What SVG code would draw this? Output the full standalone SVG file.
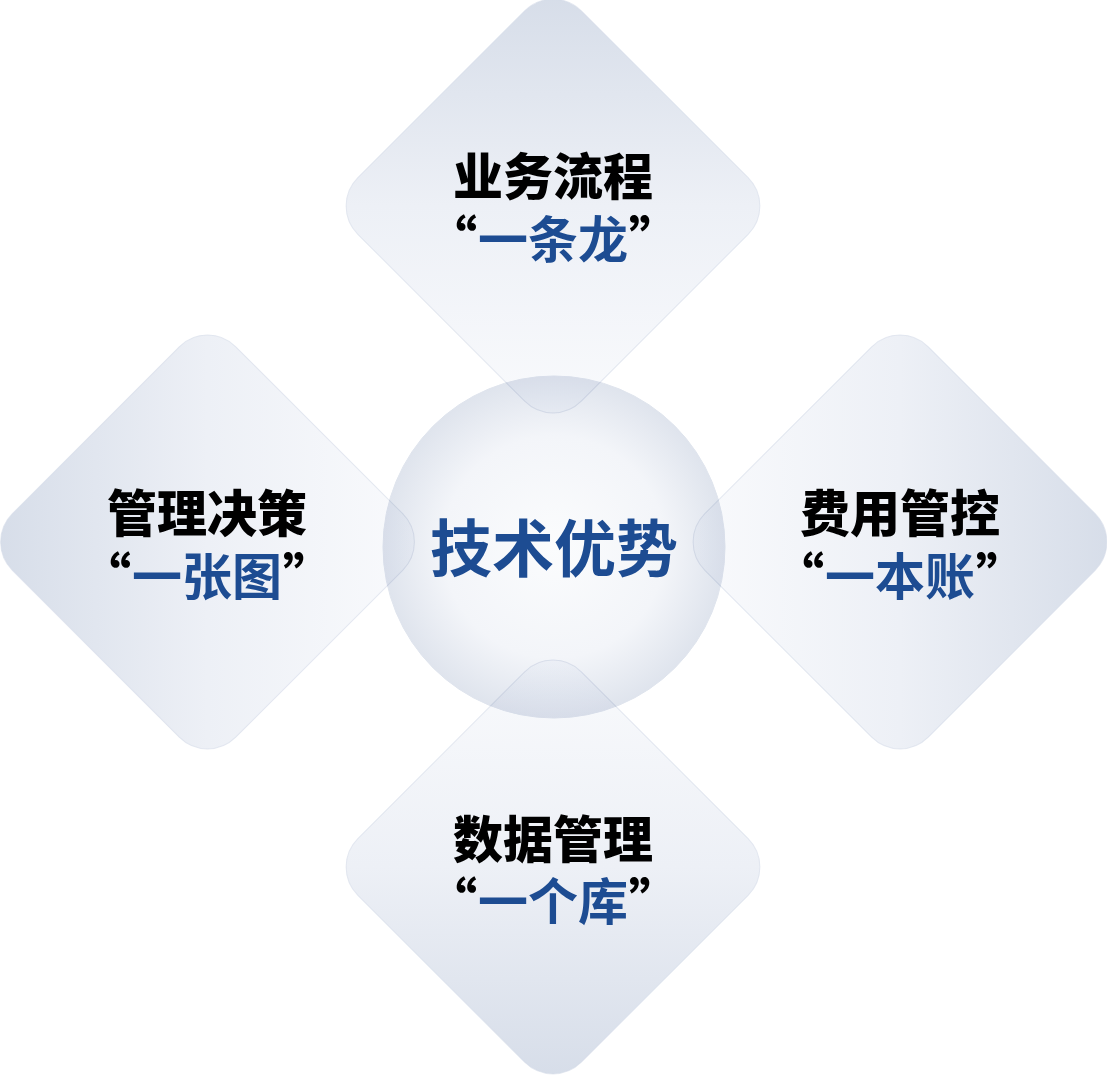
<svg xmlns="http://www.w3.org/2000/svg" width="1107" height="1075" viewBox="0 0 1107 1075">
<style>
.dia{stroke:#d3dbe8;stroke-opacity:0.6;stroke-width:1}
.t1{font-family:"Noto Sans CJK SC","Noto Sans",sans-serif;font-weight:900;font-size:50px;fill:#000000}
.t2{font-family:"Noto Sans CJK SC","Noto Sans",sans-serif;font-weight:700;font-size:50px;fill:#1d4c92}
.q{font-family:"Noto Sans CJK SC","Noto Sans",sans-serif;font-weight:900;font-size:50px;fill:#000000}
.center{font-family:"Noto Sans CJK SC","Noto Sans",sans-serif;font-weight:700;font-size:62px;fill:#1d4c92}
</style>
<defs>
<linearGradient id="gTop" x1="0" y1="0" x2="1" y2="1">
<stop offset="0" stop-color="#d5dce8"/><stop offset="0.5" stop-color="#edf0f6"/><stop offset="1" stop-color="#fafbfd"/>
</linearGradient>
<linearGradient id="gLeft" x1="0" y1="1" x2="1" y2="0">
<stop offset="0" stop-color="#d5dce8"/><stop offset="0.5" stop-color="#edf0f6"/><stop offset="1" stop-color="#fafbfd"/>
</linearGradient>
<linearGradient id="gRight" x1="1" y1="0" x2="0" y2="1">
<stop offset="0" stop-color="#d5dce8"/><stop offset="0.5" stop-color="#edf0f6"/><stop offset="1" stop-color="#fafbfd"/>
</linearGradient>
<linearGradient id="gBottom" x1="1" y1="1" x2="0" y2="0">
<stop offset="0" stop-color="#d5dce8"/><stop offset="0.5" stop-color="#edf0f6"/><stop offset="1" stop-color="#fafbfd"/>
</linearGradient>
<radialGradient id="gCircle" cx="0.5" cy="0.5" r="0.5">
<stop offset="0" stop-color="#fbfcfd"/><stop offset="0.65" stop-color="#f3f5f9"/><stop offset="1" stop-color="#dfe4ed"/>
</radialGradient>
</defs>
<rect width="1107" height="1075" fill="#ffffff"/>
<g id="connectors"></g>
<g id="node-top">
<rect class="dia" x="-158" y="-158" width="316" height="316" rx="40" fill="url(#gTop)" transform="translate(553,206) rotate(45)"/>
</g>
<g id="node-left">
<rect class="dia" x="-158" y="-158" width="316" height="316" rx="40" fill="url(#gLeft)" transform="translate(207.5,542) rotate(45)"/>
</g>
<g id="node-right">
<rect class="dia" x="-158" y="-158" width="316" height="316" rx="40" fill="url(#gRight)" transform="translate(900,542) rotate(45)"/>
</g>
<g id="node-bottom">
<rect class="dia" x="-158" y="-158" width="316" height="316" rx="40" fill="url(#gBottom)" transform="translate(553,867) rotate(45)"/>
</g>
<g id="node-center">
<circle cx="554" cy="547" r="171" fill="url(#gCircle)" stroke="#dfe4ed" stroke-width="1" style="mix-blend-mode:multiply"/>
<text class="center" x="554" y="572" text-anchor="middle">技术优势</text>
</g>
<g id="label-top">
<text class="t1" x="553" y="195" text-anchor="middle">业务流程</text>
<text class="q" x="477" y="258" text-anchor="end">“</text>
<text class="t2" x="478" y="258">一条龙</text>
<text class="q" x="629" y="258">”</text>
</g>
<g id="label-left">
<text class="t1" x="207" y="532" text-anchor="middle">管理决策</text>
<text class="q" x="131" y="595" text-anchor="end">“</text>
<text class="t2" x="132" y="595">一张图</text>
<text class="q" x="283" y="595">”</text>
</g>
<g id="label-right">
<text class="t1" x="900" y="532" text-anchor="middle">费用管控</text>
<text class="q" x="824" y="595" text-anchor="end">“</text>
<text class="t2" x="825" y="595">一本账</text>
<text class="q" x="976" y="595">”</text>
</g>
<g id="label-bottom">
<text class="t1" x="553" y="858" text-anchor="middle">数据管理</text>
<text class="q" x="477" y="920" text-anchor="end">“</text>
<text class="t2" x="478" y="920">一个库</text>
<text class="q" x="629" y="920">”</text>
</g>
</svg>
